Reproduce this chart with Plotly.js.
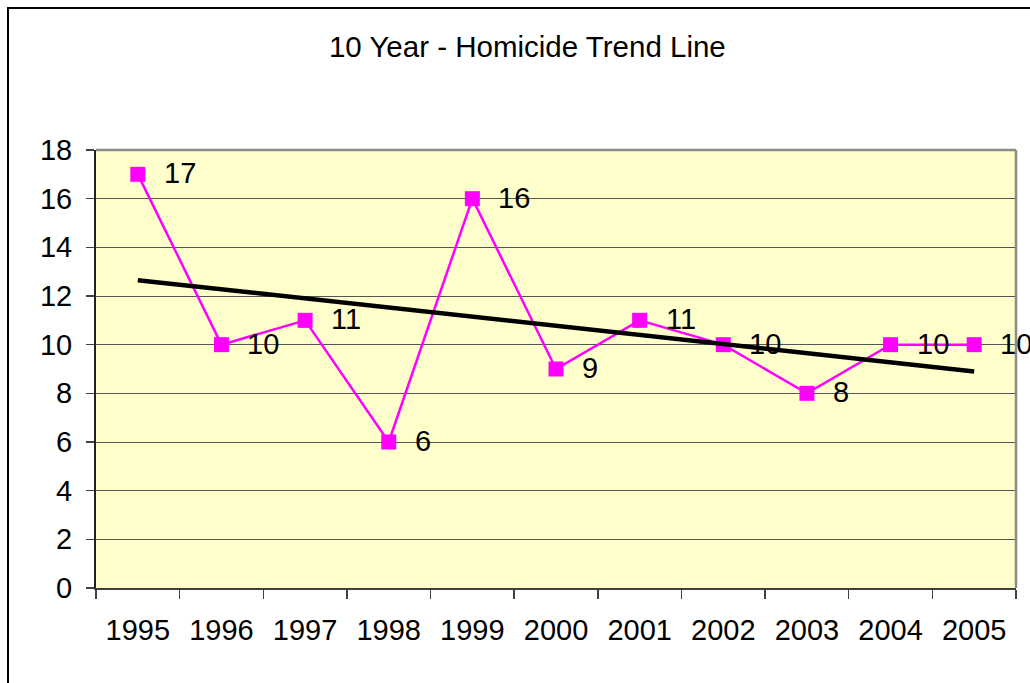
<!DOCTYPE html>
<html>
<head>
<meta charset="utf-8">
<script src="https://cdn.plot.ly/plotly-3.0.1.min.js"></script>
<style>
html,body{margin:0;padding:0;background:#fff;overflow:hidden;}
#chart{width:1030px;height:683px;}
</style>
</head>
<body>
<div id="chart"></div>
<script>
// Data
const years = ['1995','1996','1997','1998','1999','2000','2001','2002','2003','2004','2005'];
const homicides = [17, 10, 11, 6, 16, 9, 11, 10, 8, 10, 10];
const trendYears = ['1995', '2005'];
const trendValues = [12.65, 8.9];
const yTicks = [0, 2, 4, 6, 8, 10, 12, 14, 16, 18];
const chartTitle = '10 Year - Homicide Trend Line';

const FONT = 'Liberation Sans, Arial, sans-serif';

const traces = [
  {
    x: years, y: homicides, type: 'scatter', mode: 'lines+markers',
    line: {color: '#FF00FF', width: 2.5},
    marker: {symbol: 'square', size: 15, color: '#FF00FF'},
    hoverinfo: 'x+y', showlegend: false, cliponaxis: false
  },
  {
    x: trendYears, y: trendValues, type: 'scatter', mode: 'lines',
    line: {color: '#000000', width: 4.5},
    hoverinfo: 'skip', showlegend: false
  }
];

// category axis: annotation x is the category's serial number
const annotations = years.map((yr, i) => ({
  x: years.indexOf(yr), y: homicides[i], xref: 'x', yref: 'y',
  text: String(homicides[i]), showarrow: false,
  xanchor: 'left', yanchor: 'middle', xshift: 24, yshift: 1,
  font: {family: FONT, size: 29, color: '#000000'}
}));

const layout = {
  width: 1030, height: 683,
  margin: {l: 96, r: 14, t: 150, b: 95, pad: 0},
  paper_bgcolor: '#ffffff',
  plot_bgcolor: '#FFFFCC',
  font: {family: FONT, color: '#000000'},
  title: {
    text: chartTitle,
    font: {family: FONT, size: 29.5, color: '#000000'},
    xref: 'container', yref: 'container',
    x: 0.512, y: 1 - 47 / 683, xanchor: 'center', yanchor: 'middle'
  },
  xaxis: {
    type: 'category', range: [-0.5, 10.5],
    showgrid: false, zeroline: false,
    showline: true, linecolor: '#404040', linewidth: 2,
    ticks: 'outside', tickson: 'boundaries', ticklen: 9, tickwidth: 1.5, tickcolor: '#404040',
    tickfont: {family: FONT, size: 29, color: '#000000'},
    ticklabelstandoff: 15,
    fixedrange: true
  },
  yaxis: {
    range: [0, 18], tickvals: yTicks, ticktext: yTicks.map(String),
    showgrid: true, gridcolor: '#555555', gridwidth: 1,
    zeroline: false,
    showline: true, linecolor: '#202020', linewidth: 2,
    ticks: 'outside', ticklen: 8, tickwidth: 1.5, tickcolor: '#404040',
    tickfont: {family: FONT, size: 29, color: '#000000'},
    ticklabelstandoff: 8,
    fixedrange: true
  },
  shapes: [
    {type: 'line', xref: 'paper', yref: 'paper', x0: 0, x1: 1, y0: 1, y1: 1,
     line: {color: '#8c8c8c', width: 2.5}, layer: 'above'},
    {type: 'line', xref: 'paper', yref: 'paper', x0: 1, x1: 1, y0: 0, y1: 1,
     line: {color: '#8c8c8c', width: 2.5}, layer: 'above'},
    {type: 'rect', xref: 'paper', yref: 'paper',
     x0: (8 - 96) / 920, x1: 1.2, y0: -0.5, y1: (588 - 8) / 438,
     line: {color: '#000000', width: 2}, fillcolor: 'rgba(0,0,0,0)', layer: 'above'}
  ],
  annotations: annotations,
  showlegend: false
};

Plotly.newPlot('chart', traces, layout, {displayModeBar: false, staticPlot: true});
</script>
</body>
</html>
